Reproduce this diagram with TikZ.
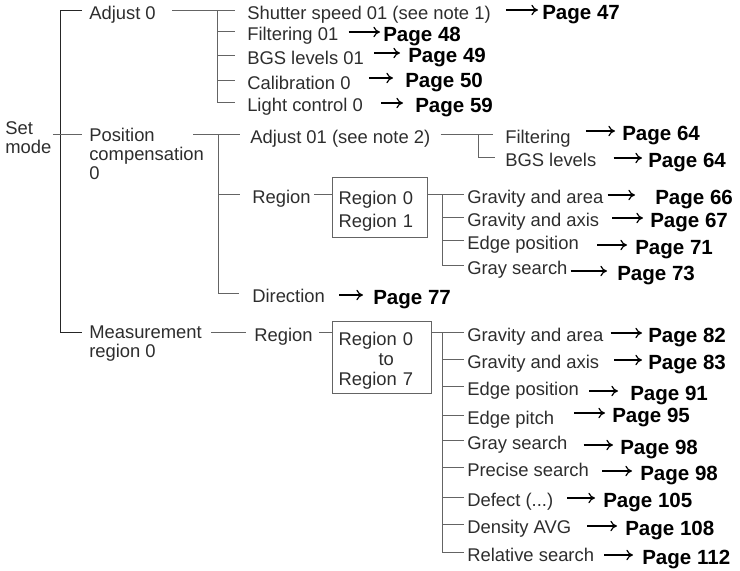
\documentclass[tikz,border=0pt]{standalone}
\usepackage{fontspec}
\setmainfont{Liberation Sans}
\usetikzlibrary{arrows.meta,calc}
\definecolor{ink}{RGB}{45,45,45}
\definecolor{wire}{RGB}{100,100,100}
\tikzset{
  item/.style={
    anchor = west,
    inner sep = 0pt,
    text height = 15.1pt,
    text depth = 0.7pt,
    text = ink,
    font = \fontsize{13.8}{14.25}\selectfont
  },
  itemml/.style={
    anchor = north west,
    inner sep = 0pt,
    align = left,
    text = ink,
    font = \fontsize{13.8}{14.25}\selectfont
  },
  page/.style={
    anchor = base west,
    yshift = -7pt,
    inner sep = 0pt,
    font = \fontsize{15.4}{16}\selectfont\bfseries
  },
  regbox/.style={
    draw = wire,
    line width = 0.8pt,
    anchor = north west,
    inner xsep = 4.5pt,
    align = left,
    text = ink,
    font = \fontsize{13.8}{17.25}\selectfont
  },
  branch/.style={draw=wire, line width=0.7pt},
  trunk/.style={draw=black!85, line width=0.7pt},
  pgarrow/.style={-{To[length=5pt,width=8pt]}, line width=0.9pt, black}
}

\begin{document}
\begin{tikzpicture}[x=0.75pt,y=-0.75pt]
    \useasboundingbox (0,0) rectangle (740,571);
    % top level
    \node[itemml] (setm) at (5,121) {Set\\mode};
    \node[item] (adj0) at (89,10) {Adjust 0};
    \node[itemml] (posc) at (89,128) {Position\\compensation\\0};
    \node[itemml] (meas) at (89,326) {Measurement\\region 0};
    \coordinate (pcL) at ([yshift=-4.5pt]posc.north west);
    \coordinate (msL) at ([yshift=-4.5pt]meas.north west);
    \coordinate (tk) at (60,332);
    \draw[trunk, shorten <=5.25pt, shorten >=5.25pt] (adj0.west) -| (tk) -- (msL);
    \draw[branch, shorten <=1pt, shorten >=5.25pt] (setm.east |- pcL) -- (pcL);
    % adjust 0
    \coordinate (abar) at (217,10);
    \foreach \n/\y/\txt/\px/\py/\pg/\ta/\hd in {
      1/10/{Shutter speed 01 (see note 1)}/542/10/47/15/4,
      2/31/{Filtering 01}/383/32/48/10/3,
      3/55/{BGS levels 01}/408/53/49/10/8,
      4/80/{Calibration 0}/405/78/50/18/12,
      5/102/{Light control 0}/415/103/59/18/12}{
    \node[item] (a\n) at (247,\y) {\txt};
    \node[page] (pa\n) at (\px,\py) {Page \pg};
    \draw[pgarrow, shorten <=\ta*0.75pt, shorten >=\hd*0.75pt] ([yshift=7pt]pa\n.base west -| a\n.east) -- ([yshift=7pt]pa\n.base west);
    \draw[branch, shorten >=9pt] (abar) |- (a\n);}
    \draw[branch, shorten <=12pt, shorten >=9pt] (adj0) -- (a1);
    % position compensation
    \coordinate (pout) at (193,134);
    \coordinate (pbar) at (218,134);
    \node[item] (b1) at (250,134) {Adjust 01 (see note 2)};
    \node[item] (b2) at (252,194) {Region};
    \node[item] (b3) at (252,293) {Direction};
    \node[page] (pb3) at (373,295) {Page 77};
    \draw[branch, shorten >=7.5pt] (pout) -- (b1);
    \draw[branch, shorten >=9pt] (pbar) |- (b2);
    \draw[branch, shorten >=10pt] (pbar) |- (b3);
    \draw[pgarrow, shorten <=10.5pt, shorten >=7.5pt] ([yshift=7pt]pb3.base west -| b3.east) -- ([yshift=7pt]pb3.base west);
    % adjust 01
    \coordinate (cbar) at (478,134);
    \foreach \n/\y/\txt/\px/\py/\ta/\hd in {
      1/134/{Filtering}/622/131/15/7,
      2/157/{BGS levels}/648/158/17/6}{
    \node[item] (c\n) at (505,\y) {\txt};
    \node[page] (pc\n) at (\px,\py) {Page 64};
    \draw[pgarrow, shorten <=\ta*0.75pt, shorten >=\hd*0.75pt] ([yshift=7pt]pc\n.base west -| c\n.east) -- ([yshift=7pt]pc\n.base west);}
    \draw[branch, shorten <=7.5pt, shorten >=9pt] (b1) -- (c1);
    \draw[branch, shorten >=7.5pt] (cbar) |- (c2);
    % region 0 / 1
    \node[regbox, text width=62pt, minimum height=45pt] (rbox1) at (332,177) {\rule{0pt}{16pt}Region 0\\Region 1};
    \draw[branch, shorten <=2.25pt] (b2.east) -- (b2.east -| rbox1.west);
    \coordinate (rbar1) at (442,194);
    \foreach \n/\y/\txt/\px/\py/\pg/\ta/\hd in {
      1/194/{Gravity and area}/655/195/66/4/20,
      2/217/{Gravity and axis}/650/218/67/13/7,
      3/240/{Edge position}/635/245/71/18/8,
      4/265/{Gray search}/617/271/73/3/10}{
    \node[item] (d\n) at (467,\y) {\txt};
    \node[page] (pd\n) at (\px,\py) {Page \pg};
    \draw[pgarrow, shorten <=\ta*0.75pt, shorten >=\hd*0.75pt] ([yshift=7pt]pd\n.base west -| d\n.east) -- ([yshift=7pt]pd\n.base west);
    \draw[branch, shorten >=2.5pt] (rbar1) |- (d\n);}
    \draw[branch, shorten >=2.5pt] (rbox1.east |- d1) -- (d1);
    % measurement region
    \node[item] (m2) at (254,332) {Region};
    \draw[branch, shorten <=6.75pt, shorten >=6pt] (meas.north east |- m2) -- (m2);
    \node[regbox, text width=65.25pt, minimum height=52.5pt, font=\fontsize{13.8}{15}\selectfont] (rbox2) at (332,321) {\rule{0pt}{14.5pt}Region 0\\\hspace*{30pt}to\\Region 7};
    \draw[branch, shorten <=4.5pt] (m2.east) -- (m2.east -| rbox2.west);
    \coordinate (rbar2) at (442,332);
    \foreach \n/\y/\txt/\px/\py/\pg/\ta/\hd in {
      1/332/{Gravity and area}/648/333/82/7/6,
      2/359/{Gravity and axis}/648/360/83/15/6,
      3/386/{Edge position}/630/391/91/10/12,
      4/415/{Edge pitch}/612/413/95/20/7,
      5/440/{Gray search}/620/445/98/16/7,
      6/467/{Precise search}/640/471/98/13/8,
      7/497/{Defect (...)}/603/498/105/14/8,
      8/524/{Density AVG}/625/526/108/16/8,
      9/552/{Relative search}/642/555/112/10/9}{
    \node[item] (e\n) at (467,\y) {\txt};
    \node[page] (pe\n) at (\px,\py) {Page \pg};
    \draw[pgarrow, shorten <=\ta*0.75pt, shorten >=\hd*0.75pt] ([yshift=7pt]pe\n.base west -| e\n.east) -- ([yshift=7pt]pe\n.base west);
    \draw[branch, shorten >=2.5pt] (rbar2) |- (e\n);}
    \draw[branch, shorten >=2.5pt] (rbox2.east |- e1) -- (e1);
\end{tikzpicture}
\end{document}
